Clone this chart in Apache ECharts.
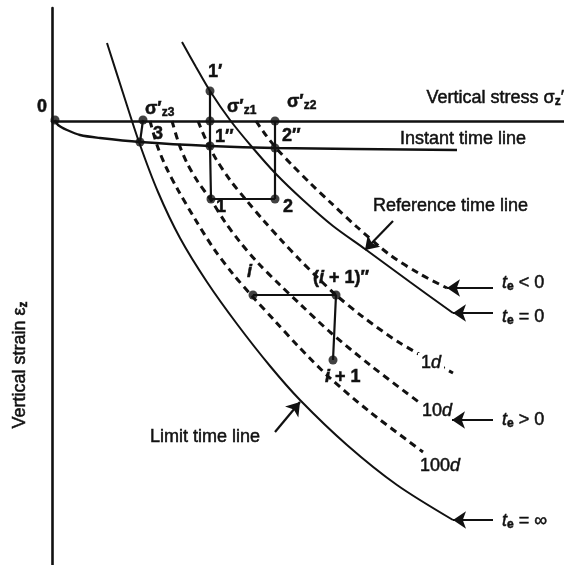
<!DOCTYPE html>
<html>
<head>
<meta charset="utf-8">
<script src="https://cdn.jsdelivr.net/npm/echarts@6/dist/echarts.min.js"></script>
<style>
  html, body { margin: 0; padding: 0; background: #fff; }
  #chart { width: 564px; height: 565px; }
</style>
</head>
<body>
<div id="chart"></div>
<script>
// Stress (x, to the right) and strain (y, downwards) in drawing units; origin at the axes corner.

// Solid time lines
const limitLine = [[55,-78],[71,-28],[87,21],[106,71],[128,117],[155,161],[185,203],[218,245],[248,279],[295,324],[345,364],[401,399]];
const referenceLine = [[130,-79],[144,-54],[158,-30],[178,-1],[200,26],[224,53],[251,79],[281,105],[313,128],[358,161],[401,192]];
const instantLine = [[3,-1],[6,4],[15,9],[28,14],[48,17],[88,21],[158,25],[223,27],[405,29]];

// Dashed time lines
const negativeAgeLine = [[204,0],[213,13],[225,28],[240,44],[258,62],[278,81],[305,106],[338,134],[368,153],[395,167]];
const line1d = [[146,0],[154,19],[164,38],[178,59],[195,80],[212,100],[230,120],[248,139],[266,157],[284,174],[311,196],[348,222],[401,252]];
const line10d = [[120,0],[127,23],[135,42],[146,61],[159,79],[173,101],[188,121],[206,142],[228,164],[248,183],[278,211],[318,244],[368,282]];
const line100d = [[98,0],[105,24],[114,46],[126,69],[143,98],[162,128],[181,153],[200,175],[223,200],[246,225],[278,257],[318,291],[371,331]];

// State points
const statePoints = [[3,-1],[91,-1],[88,21],[158,-30],[158,0],[158,25],[159,78],[223,0],[223,27],[223,78],[201,174],[284,174],[281,239]];

// Loading / creep paths between state points
const pathZ3 = [[91,-1],[88,21]];
const path1 = [[158,-30],[158,25],[159,78]];
const path12 = [[159,78],[223,78]];
const pathZ2 = [[223,0],[223,78]];
const pathI = [[201,174],[284,174],[281,239]];

// Pointer arrows [from, to]
const arrows = [
  [[341,100],[313,129]],
  [[223,311],[248,281]],
  [[441,167],[395,167]],
  [[441,192],[401,192]],
  [[441,299],[400,299]],
  [[441,399],[401,399]]
];

// Annotation texts and their anchor points
const labels = [
  { at: [-15,-14], text: '0', bold: true },
  { at: [93,-12], text: '{n|σ′}{sub|z3}', bold: true },
  { at: [175,-14], text: '{n|σ′}{sub|z1}', bold: true },
  { at: [235,-19], text: '{n|σ′}{sub|z2}', bold: true },
  { at: [156,-49], text: '1′', bold: true },
  { at: [163,16], text: '1″', bold: true },
  { at: [230,15], text: '2″', bold: true },
  { at: [101,13], text: '3', bold: true },
  { at: [164,86], text: '1', bold: true },
  { at: [231,86], text: '2', bold: true },
  { at: [195,151], text: '{it|i}', bold: true },
  { at: [261,157], text: '{n|(}{it|i}{n| + 1)″}', bold: true },
  { at: [273,256], text: '{it|i}{n| + 1}', bold: true },
  { at: [366,242], text: '{n|1}{it|d}', knockout: true },
  { at: [370,290], text: '{n|10}{it|d}' },
  { at: [368,345], text: '{n|100}{it|d}' },
  { at: [450,162], text: '{it|t}{sub|e}{n| < 0}' },
  { at: [450,196], text: '{it|t}{sub|e}{n| = 0}' },
  { at: [450,299], text: '{it|t}{sub|e}{n| > 0}' },
  { at: [450,400], text: '{it|t}{sub|e}{n| = ∞}' },
  { at: [321,85], text: 'Reference time line' },
  { at: [348,18], text: 'Instant time line' },
  { at: [512,-23], text: '{n|Vertical stress σ}{sub|z}{n|′}', align: 'right' },
  { at: [98,316], text: 'Limit time line' },
  { at: [-32,244], text: '{n|Vertical strain ε}{sub|z}', align: 'center', rotate: true }
];

const INK = '#111';
const FONT = '"Liberation Sans", Arial, Helvetica, sans-serif';

const chart = echarts.init(document.getElementById('chart'), null, { renderer: 'canvas' });

function solid(data, width) {
  return {
    type: 'line', data: data, smooth: 0.3,
    symbol: 'none', silent: true, clip: false,
    lineStyle: { color: INK, width: width || 2 }
  };
}
function dashed(data) {
  return {
    type: 'line', data: data, smooth: 0.3,
    symbol: 'none', silent: true, clip: false,
    lineStyle: { color: INK, width: 3, type: [7, 5] }
  };
}
function straight(data) {
  return {
    type: 'line', data: data, smooth: false, symbol: 'none', silent: true, clip: false,
    lineStyle: { color: INK, width: 2.2 }
  };
}

const instantSeries = solid(instantLine, 2.4);
instantSeries.markLine = {
  silent: true,
  animation: false,
  symbol: ['none', 'arrow'],
  symbolSize: 13,
  label: { show: false },
  lineStyle: { color: INK, width: 2.2, type: 'solid' },
  itemStyle: { color: INK },
  data: arrows.map(a => [{ coord: a[0] }, { coord: a[1] }])
};

chart.setOption({
  animation: false,
  backgroundColor: '#fff',
  grid: { left: 52, right: 0, top: 8, bottom: 0 },
  xAxis: {
    type: 'value', min: 0, max: 512,
    axisLine: { show: true, onZero: true, lineStyle: { color: INK, width: 2.6 } },
    axisTick: { show: false }, axisLabel: { show: false }, splitLine: { show: false }
  },
  yAxis: {
    type: 'value', min: -113, max: 444, inverse: true,
    axisLine: { show: true, onZero: true, lineStyle: { color: INK, width: 2.6 } },
    axisTick: { show: false }, axisLabel: { show: false }, splitLine: { show: false }
  },
  series: [
    solid(limitLine, 2),
    solid(referenceLine, 2),
    instantSeries,
    dashed(negativeAgeLine),
    dashed(line1d),
    dashed(line10d),
    dashed(line100d),
    straight(pathZ3),
    straight(path1),
    straight(path12),
    straight(pathZ2),
    straight(pathI),
    {
      type: 'scatter', data: statePoints, symbol: 'circle', symbolSize: 9,
      itemStyle: { color: INK }, silent: true, clip: false, z: 5
    }
  ]
});

function richStyles(bold) {
  const w = bold ? 'bold' : 'normal';
  const edge = { stroke: INK, lineWidth: 0.5 };
  return {
    n: Object.assign({ fontSize: 18, fontFamily: FONT, fontWeight: w, lineHeight: 20, fill: INK }, edge),
    it: Object.assign({ fontSize: 18, fontFamily: FONT, fontWeight: w, fontStyle: 'italic', lineHeight: 20, fill: INK }, edge),
    sub: Object.assign({ fontSize: 12, fontFamily: FONT, fontWeight: 'bold', lineHeight: 8, verticalAlign: 'bottom', fill: INK }, edge)
  };
}

const graphics = labels.map(l => {
  const p = chart.convertToPixel({ gridIndex: 0 }, l.at);
  const isRich = l.text.indexOf('{') >= 0;
  const style = {
    text: isRich ? l.text : '{n|' + l.text + '}',
    align: l.align || 'left',
    verticalAlign: 'middle',
    fill: INK,
    rich: richStyles(l.bold)
  };
  if (l.knockout) {
    style.backgroundColor = '#fff';
    style.padding = [0, 3, 0, 3];
  }
  return {
    type: 'text',
    x: p[0], y: p[1],
    rotation: l.rotate ? Math.PI / 2 : 0,
    silent: true,
    z: 10,
    style: style
  };
});

chart.setOption({ graphic: graphics });
</script>
</body>
</html>
